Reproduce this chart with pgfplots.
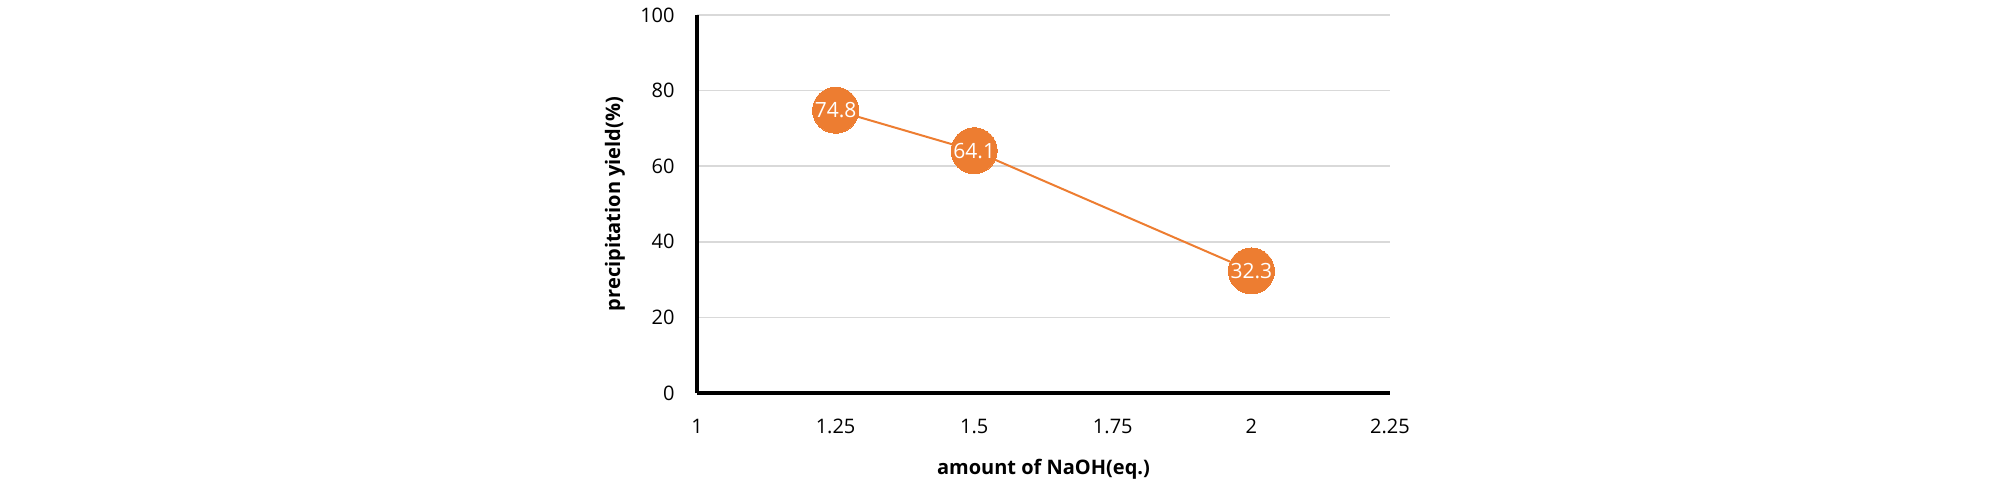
\documentclass[border=0pt]{standalone}
\usepackage{fontspec}
\setmainfont{Open Sans}
\usepackage{pgfplots}
\pgfplotsset{compat=1.18}
\definecolor{xlorange}{HTML}{ED7D31}
\definecolor{gridgray}{HTML}{D9D9D9}
\begin{document}
\begin{tikzpicture}
\useasboundingbox (0,0) rectangle (1004pt,242pt);
\begin{axis}[
  at={(348.5pt,45.5pt)}, anchor=south west,
  scale only axis, width=346.5pt, height=189pt,
  xmin=1, xmax=2.25, ymin=0, ymax=100,
  xtick={1,1.25,1.5,1.75,2,2.25},
  xticklabels={1,1.25,1.5,1.75,2,2.25},
  ytick={0,20,40,60,80,100},
  axis x line=bottom, axis y line=left,
  axis line style={-},
  x axis line style={line width=1.9pt},
  y axis line style={line width=1.6pt},
  major tick length=0pt,
  ymajorgrids, major grid style={draw=gridgray, line width=0.8pt},
  tick label style={font=\fontsize{10}{12}\selectfont, text=black},
  /pgf/number format/assume math mode=true,
  xticklabel style={anchor=center, yshift=-16.5pt},
  yticklabel style={anchor=east, inner sep=0pt, xshift=-11pt},
  every axis x label/.style={at={(axis description cs:0.5,-0.203)}, anchor=center},
  every axis y label/.style={at={(axis description cs:-0.1183,0.5)}, rotate=90, anchor=center},
  label style={font=\bfseries\fontsize{10}{12}\selectfont},
  xlabel={amount of NaOH(eq.)},
  ylabel={precipitation yield(\%)},
  clip=false,
]
\addplot[color=xlorange, line width=1pt, mark=*, mark size=11.5pt,
  mark options={fill=xlorange, draw=xlorange, line width=0pt},
  nodes near coords={\pgfmathprintnumber[fixed,fixed zerofill,precision=1,assume math mode=true]{\pgfplotspointmeta}},
  every node near coord/.append style={anchor=center, text=white, font=\fontsize{10.5}{12}\selectfont},
  point meta=y]
  coordinates {(1.25,74.8) (1.5,64.1) (2,32.3)};
\end{axis}
\end{tikzpicture}
\end{document}
